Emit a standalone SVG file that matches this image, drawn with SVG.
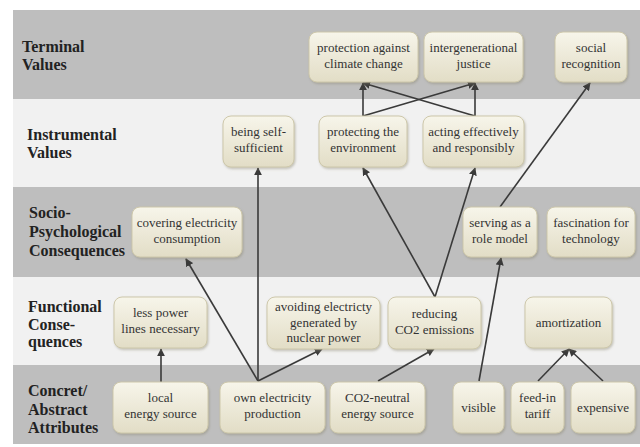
<svg xmlns="http://www.w3.org/2000/svg" width="640" height="447" viewBox="0 0 640 447">
<defs>
<linearGradient id="nodeFill" x1="0" y1="0" x2="0" y2="1">
<stop offset="0" stop-color="#f7f5ea"/>
<stop offset="1" stop-color="#e2ddc6"/>
</linearGradient>
<filter id="shadow" x="-10%" y="-10%" width="125%" height="130%">
<feDropShadow dx="1" dy="1.5" stdDeviation="1.2" flood-color="#8a8470" flood-opacity="0.45"/>
</filter>
<marker id="arrow" viewBox="0 0 10 10" refX="9" refY="5" markerWidth="8" markerHeight="8" markerUnits="userSpaceOnUse" orient="auto">
<path d="M0,0 L10,5 L0,10 Z" fill="#3a3a3a"/>
</marker>
<style>
.band-dark{fill:#bebebe}
.band-light{fill:#f1f1f1}
.lvl{font-family:'Liberation Serif','DejaVu Serif','Noto Serif',Tinos,FreeSerif,'Times New Roman',Georgia,serif;font-weight:bold;font-size:16px;fill:#222}
.node rect{fill:url(#nodeFill);stroke:#cdc7aa;stroke-width:1;filter:url(#shadow)}
.node text{font-family:'Liberation Serif','DejaVu Serif','Noto Serif',Tinos,FreeSerif,'Times New Roman',Georgia,serif;font-size:13px;fill:#333;text-anchor:middle}
.edge{stroke:#3a3a3a;stroke-width:1.6;fill:none}
.arr{marker-end:url(#arrow)}
</style>
</defs>
<rect width="640" height="447" fill="#ffffff"/>
<g id="bands">
<rect class="band-dark" x="13" y="10" width="627" height="89"/>
<rect class="band-light" x="13" y="99" width="627" height="88"/>
<rect class="band-dark" x="13" y="187" width="627" height="90"/>
<rect class="band-light" x="13" y="277" width="627" height="88"/>
<rect class="band-dark" x="13" y="365" width="627" height="79"/>
</g>
<g id="level-labels" class="lvl">
<text x="22" y="52">Terminal</text>
<text x="22" y="70">Values</text>
<text x="27" y="140">Instrumental</text>
<text x="27" y="158">Values</text>
<text x="29" y="218">Socio-</text>
<text x="29" y="237">Psychological</text>
<text x="29" y="256">Consequences</text>
<text x="28" y="312">Functional</text>
<text x="28" y="330">Conse-</text>
<text x="28" y="347">quences</text>
<text x="28" y="396">Concret/</text>
<text x="28" y="415">Abstract</text>
<text x="28" y="433">Attributes</text>
</g>
<g id="connectors">
<line class="edge arr" x1="161" y1="382" x2="161" y2="349"/>
<line class="edge arr" x1="258" y1="381" x2="186" y2="259"/>
<line class="edge arr" x1="258" y1="381" x2="258" y2="168"/>
<line class="edge arr" x1="258" y1="381" x2="322" y2="349"/>
<line class="edge arr" x1="378" y1="381" x2="434" y2="349"/>
<line class="edge arr" x1="435" y1="297" x2="363" y2="168"/>
<line class="edge arr" x1="435" y1="297" x2="475" y2="168"/>
<line class="edge arr" x1="479" y1="381" x2="501" y2="258"/>
<line class="edge arr" x1="500" y1="207" x2="590" y2="83"/>
<line class="edge arr" x1="538" y1="381" x2="569" y2="349"/>
<line class="edge arr" x1="603" y1="381" x2="569" y2="349"/>
<line class="edge arr" x1="363" y1="116" x2="363" y2="83"/>
<line class="edge arr" x1="363" y1="116" x2="475" y2="83"/>
<line class="edge arr" x1="475" y1="116" x2="475" y2="83"/>
<line class="edge arr" x1="475" y1="116" x2="363" y2="83"/>
</g>
<g id="nodes">
<g id="n-protection-climate" class="node">
<rect x="309" y="32" width="109" height="50" rx="8"/>
<text x="363.5" y="52">protection against</text>
<text x="363.5" y="68">climate change</text>
</g>
<g id="n-intergenerational" class="node">
<rect x="424" y="32" width="99" height="50" rx="8"/>
<text x="473.5" y="52">intergenerational</text>
<text x="473.5" y="68">justice</text>
</g>
<g id="n-social-recognition" class="node">
<rect x="555" y="32" width="72" height="50" rx="8"/>
<text x="591" y="52">social</text>
<text x="591" y="68">recognition</text>
</g>
<g id="n-self-sufficient" class="node">
<rect x="223" y="116" width="71" height="51" rx="8"/>
<text x="258.5" y="136">being self-</text>
<text x="258.5" y="152">sufficient</text>
</g>
<g id="n-protecting-env" class="node">
<rect x="319" y="116" width="88" height="51" rx="8"/>
<text x="363" y="136">protecting the</text>
<text x="363" y="152">environment</text>
</g>
<g id="n-acting" class="node">
<rect x="423" y="116" width="101" height="51" rx="8"/>
<text x="473.5" y="136">acting effectively</text>
<text x="473.5" y="152">and responsibly</text>
</g>
<g id="n-covering" class="node">
<rect x="132" y="207" width="110" height="50" rx="8"/>
<text x="187" y="227">covering electricity</text>
<text x="187" y="243">consumption</text>
</g>
<g id="n-role-model" class="node">
<rect x="463" y="207" width="74" height="50" rx="8"/>
<text x="500" y="227">serving as a</text>
<text x="500" y="243">role model</text>
</g>
<g id="n-fascination" class="node">
<rect x="547" y="207" width="88" height="50" rx="8"/>
<text x="591" y="227">fascination for</text>
<text x="591" y="243">technology</text>
</g>
<g id="n-less-power" class="node">
<rect x="114" y="297" width="93" height="51" rx="8"/>
<text x="160.5" y="317">less power</text>
<text x="160.5" y="333">lines necessary</text>
</g>
<g id="n-avoiding" class="node">
<rect x="267" y="297" width="113" height="52" rx="8"/>
<text x="323.5" y="311">avoiding electricty</text>
<text x="323.5" y="326.5">generated by</text>
<text x="323.5" y="342">nuclear power</text>
</g>
<g id="n-reducing" class="node">
<rect x="388" y="297" width="93" height="52" rx="8"/>
<text x="434.5" y="318">reducing</text>
<text x="434.5" y="334">CO2 emissions</text>
</g>
<g id="n-amortization" class="node">
<rect x="525" y="297" width="87" height="51" rx="8"/>
<text x="568.5" y="327">amortization</text>
</g>
<g id="n-local" class="node">
<rect x="113" y="382" width="95" height="51" rx="8"/>
<text x="160.5" y="402">local</text>
<text x="160.5" y="418">energy source</text>
</g>
<g id="n-own-production" class="node">
<rect x="220" y="382" width="105" height="51" rx="8"/>
<text x="272.5" y="402">own electricity</text>
<text x="272.5" y="418">production</text>
</g>
<g id="n-co2-neutral" class="node">
<rect x="330" y="382" width="95" height="51" rx="8"/>
<text x="377.5" y="402">CO2-neutral</text>
<text x="377.5" y="418">energy source</text>
</g>
<g id="n-visible" class="node">
<rect x="453" y="382" width="51" height="51" rx="8"/>
<text x="478.5" y="412">visible</text>
</g>
<g id="n-feed-in" class="node">
<rect x="511" y="382" width="53" height="51" rx="8"/>
<text x="537.5" y="402">feed-in</text>
<text x="537.5" y="418">tariff</text>
</g>
<g id="n-expensive" class="node">
<rect x="571" y="382" width="64" height="51" rx="8"/>
<text x="603" y="412">expensive</text>
</g>
</g>
</svg>
